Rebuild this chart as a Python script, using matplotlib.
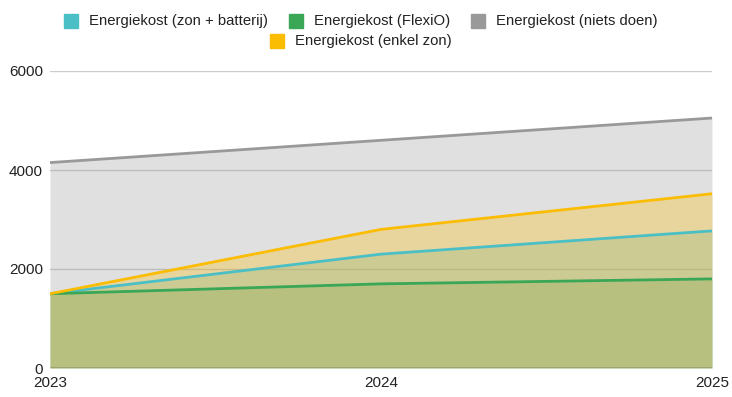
#energiekost area chart
import matplotlib
matplotlib.use('Agg')
import matplotlib.pyplot as plt
from matplotlib.patches import Rectangle

plt.rcParams['font.family'] = ['Liberation Sans', 'DejaVu Sans']

jaren = [2023, 2024, 2025]
zon_batterij = [1500, 2300, 2770]
flexio = [1500, 1700, 1800]
niets_doen = [4150, 4600, 5050]
enkel_zon = [1500, 2800, 3520]

namen = ['Energiekost (zon + batterij)', 'Energiekost (FlexiO)',
         'Energiekost (niets doen)', 'Energiekost (enkel zon)']
kleuren = ['#4bbfc6', '#3aa757', '#999999', '#fbbc04']
reeksen = [zon_batterij, flexio, niets_doen, enkel_zon]

fig = plt.figure(figsize=(7.32, 3.97), dpi=100)
ax = fig.add_axes([50/732, 29/397, 662/732, 297/397])

for y in [2000, 4000, 6000]:
    ax.axhline(y, color='#cccccc', lw=1, zorder=0)

for r, c in zip(reeksen, kleuren):
    ax.fill_between(jaren, 0, r, color=c, alpha=0.3, lw=0, zorder=1)
for r, c in zip(reeksen, kleuren):
    ax.plot(jaren, r, color=c, lw=2, zorder=3)

ax.axhline(0, color='#333333', lw=1, zorder=4)

ax.set_xlim(2023, 2025)
ax.set_ylim(0, 6000)
ax.set_xticks(jaren)
ax.set_yticks([0, 2000, 4000, 6000])
ax.tick_params(length=0, labelsize=11, colors='#222222')
ax.tick_params(axis='y', pad=5)
ax.tick_params(axis='x', pad=6)
for s in ax.spines.values():
    s.set_visible(False)

#legend, two rows centred like the original
posities = [(64, 14), (289, 14), (471, 14), (270, 34)]
for (px, py), naam, c in zip(posities, namen, kleuren):
    fig.patches.append(Rectangle((px/732, 1-(py+14)/397), 14/732, 14/397,
                                 transform=fig.transFigure, color=c))
    fig.text((px+25)/732, 1-(py+7)/397, naam, fontsize=10.7,
             va='center', ha='left', color='#222222')

fig.savefig('out.png', dpi=100)
